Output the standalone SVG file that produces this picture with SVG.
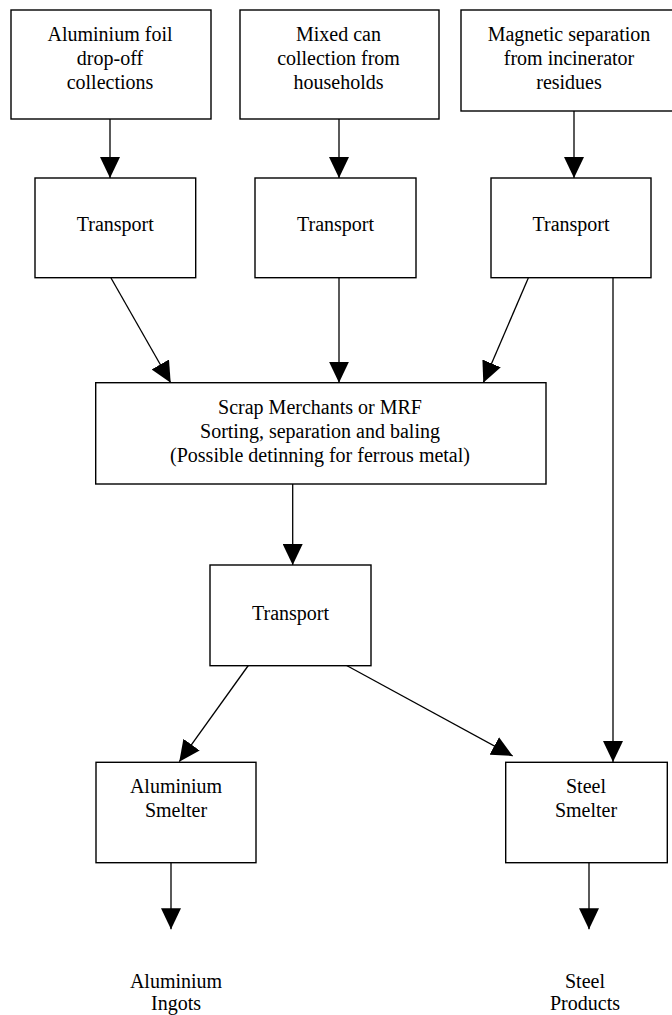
<svg xmlns="http://www.w3.org/2000/svg" width="672" height="1015" viewBox="0 0 672 1015">
  <style>
    .box { fill: #ffffff; stroke: #000000; stroke-width: 1.4; }
    .lbl { font-family: "Liberation Serif", "Times New Roman", serif; font-size: 20px; fill: #000000; text-anchor: middle; }
    .link { stroke: #000000; stroke-width: 1.3; fill: none; marker-end: url(#head); }
  </style>
  <defs>
    <marker id="head" viewBox="0 0 21 20" markerWidth="21" markerHeight="20" refX="21" refY="10" orient="auto" markerUnits="userSpaceOnUse">
      <path d="M0,0 L21,10 L0,20 z" fill="#000000"/>
    </marker>
  </defs>
  <rect width="672" height="1015" fill="#ffffff"/>

  <!-- connectors -->
  <g id="connectors">
    <line class="link" x1="110" y1="119" x2="110" y2="178"/>
    <line class="link" x1="339" y1="119" x2="339" y2="178"/>
    <line class="link" x1="574" y1="111" x2="574" y2="178"/>
    <line class="link" x1="111" y1="278" x2="170.7" y2="382.7"/>
    <line class="link" x1="339" y1="278" x2="339" y2="382.7"/>
    <line class="link" x1="528.3" y1="278" x2="483.3" y2="382.7"/>
    <line class="link" x1="613" y1="278" x2="613" y2="762"/>
    <line class="link" x1="292.7" y1="484" x2="292.7" y2="565"/>
    <line class="link" x1="248.3" y1="665.5" x2="179.3" y2="761.7"/>
    <line class="link" x1="345.7" y1="665" x2="512.7" y2="756"/>
    <line class="link" x1="171" y1="863" x2="171" y2="929.3"/>
    <line class="link" x1="589" y1="863" x2="589" y2="929.3"/>
  </g>

  <!-- collection sources -->
  <g id="src-foil">
    <rect class="box" x="11" y="10" width="200" height="109"/>
    <text class="lbl" x="110" y="40.7">Aluminium foil</text>
    <text class="lbl" x="110" y="64.7">drop-off</text>
    <text class="lbl" x="110" y="88.7">collections</text>
  </g>
  <g id="src-cans">
    <rect class="box" x="240" y="10" width="199" height="109"/>
    <text class="lbl" x="338.5" y="40.7">Mixed can</text>
    <text class="lbl" x="338.5" y="64.7">collection from</text>
    <text class="lbl" x="338.5" y="88.7">households</text>
  </g>
  <g id="src-magnetic">
    <rect class="box" x="461" y="10" width="220" height="101"/>
    <text class="lbl" x="569" y="40.7">Magnetic separation</text>
    <text class="lbl" x="569" y="64.7">from incinerator</text>
    <text class="lbl" x="569" y="88.7">residues</text>
  </g>

  <!-- first transport leg -->
  <g id="transport-1">
    <rect class="box" x="35" y="178" width="160.7" height="99.7"/>
    <text class="lbl" x="115.3" y="231">Transport</text>
  </g>
  <g id="transport-2">
    <rect class="box" x="255" y="178" width="161" height="99.7"/>
    <text class="lbl" x="335.5" y="231">Transport</text>
  </g>
  <g id="transport-3">
    <rect class="box" x="491" y="178" width="160" height="99.7"/>
    <text class="lbl" x="571" y="231">Transport</text>
  </g>

  <!-- sorting -->
  <g id="scrap-merchants">
    <rect class="box" x="95.7" y="382.7" width="450.3" height="101.3"/>
    <text class="lbl" x="320" y="414">Scrap Merchants or MRF</text>
    <text class="lbl" x="320" y="438">Sorting, separation and baling</text>
    <text class="lbl" x="320" y="462">(Possible detinning for ferrous metal)</text>
  </g>

  <!-- second transport leg -->
  <g id="transport-4">
    <rect class="box" x="210" y="565" width="161" height="100.7"/>
    <text class="lbl" x="290.5" y="620">Transport</text>
  </g>

  <!-- smelters -->
  <g id="al-smelter">
    <rect class="box" x="96" y="762.3" width="160" height="100.4"/>
    <text class="lbl" x="176" y="792.7">Aluminium</text>
    <text class="lbl" x="176" y="816.7">Smelter</text>
  </g>
  <g id="steel-smelter">
    <rect class="box" x="505.7" y="762.3" width="161.6" height="100.4"/>
    <text class="lbl" x="586" y="792.7">Steel</text>
    <text class="lbl" x="586" y="816.7">Smelter</text>
  </g>

  <!-- products -->
  <g id="al-ingots">
    <text class="lbl" x="176" y="987.5">Aluminium</text>
    <text class="lbl" x="176" y="1010">Ingots</text>
  </g>
  <g id="steel-products">
    <text class="lbl" x="585" y="987.5">Steel</text>
    <text class="lbl" x="585" y="1010">Products</text>
  </g>
</svg>
